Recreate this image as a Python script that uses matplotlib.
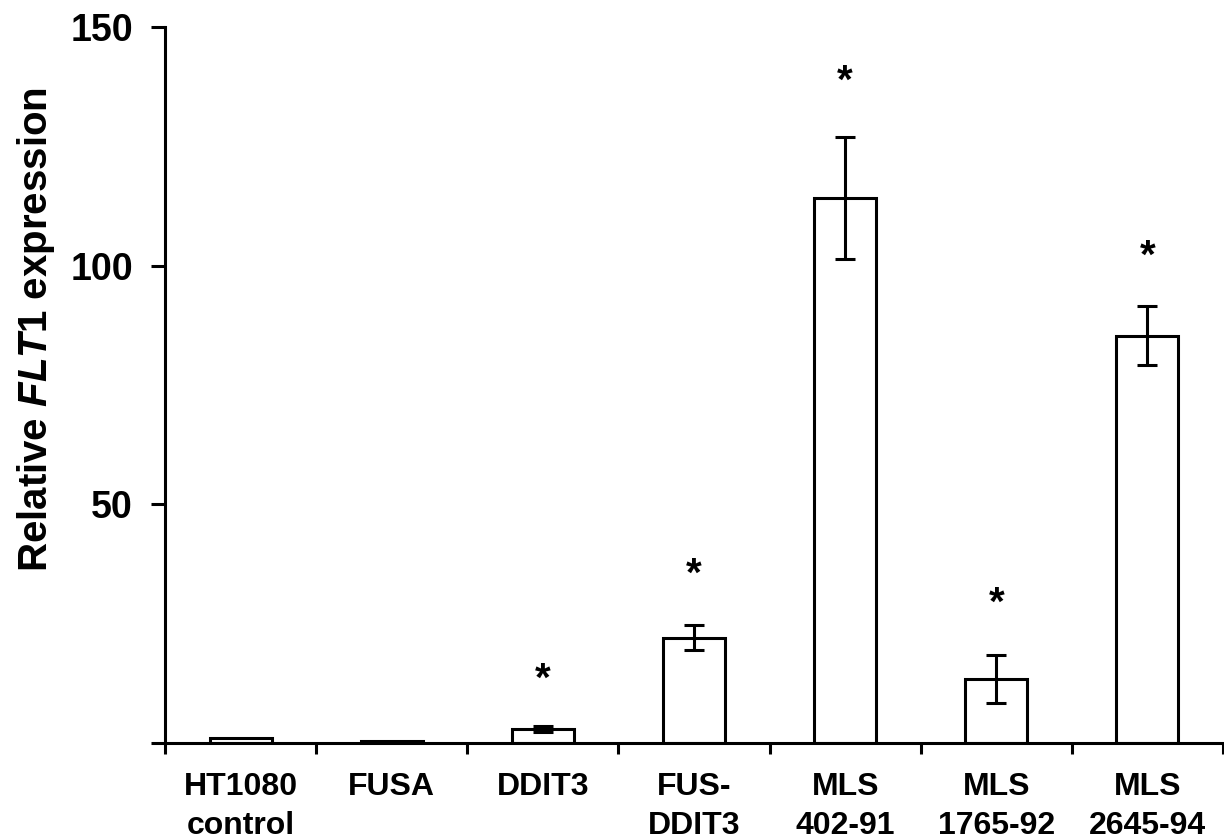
import matplotlib
matplotlib.use("Agg")
import matplotlib.pyplot as plt
from matplotlib.ticker import FixedLocator, NullFormatter

plt.rcParams['font.family'] = ['Liberation Sans', 'DejaVu Sans']
plt.rcParams['font.weight'] = 'bold'
plt.rcParams['mathtext.fontset'] = 'custom'
plt.rcParams['mathtext.it'] = 'Liberation Sans:italic:bold'
plt.rcParams['mathtext.rm'] = 'Liberation Sans:bold'

labels = ['HT1080\ncontrol', 'FUSA', 'DDIT3', 'FUS-\nDDIT3',
          'MLS\n402-91', 'MLS\n1765-92', 'MLS\n2645-94']
values = [1.0, 0.4, 2.9, 22.1, 114.2, 13.4, 85.3]
errors = [0.0, 0.0, 0.6, 2.6, 12.8, 5.0, 6.2]
# position of the significance stars (None = no star)
stars = [None, None, 14.7, 36.7, 140.0, 30.6, 103.3]

fig = plt.figure(figsize=(12.24, 8.4), dpi=100)
ax = fig.add_axes([165 / 1224, 97 / 840, 1058 / 1224, 716 / 840])

x = list(range(len(labels)))
ax.bar(x, values, width=0.41, color='white', edgecolor='black', linewidth=2.2, zorder=2)
for xi, v, e in zip(x, values, errors):
    if e > 0:
        ax.errorbar(xi, v, yerr=e, fmt='none', ecolor='black', elinewidth=2.2,
                    capsize=7.5, capthick=2.2, zorder=3)
for xi, s in zip(x, stars):
    if s is not None:
        ax.annotate('*', (xi, s), xytext=(0, -5), textcoords='offset points',
                    ha='center', va='center', fontsize=29, fontweight='bold')

ax.set_xlim(-0.5, 6.5)
ax.set_ylim(0, 150)
ax.set_yticks([0, 50, 100, 150])
ax.set_yticklabels(['', '50', '100', '150'])
ax.tick_params(axis='y', direction='out', length=10, width=2.2, pad=13, labelsize=27)

ax.set_xticks(x)
ax.set_xticklabels(labels, fontsize=23, fontweight='bold', linespacing=1.4)
ax.tick_params(axis='x', which='major', length=0, pad=21)
ax.xaxis.set_minor_locator(FixedLocator([i - 0.5 for i in range(len(labels) + 1)]))
ax.xaxis.set_minor_formatter(NullFormatter())
ax.tick_params(axis='x', which='minor', direction='out', length=8, width=2.2)

for side in ['top', 'right']:
    ax.spines[side].set_visible(False)
for side in ['left', 'bottom']:
    ax.spines[side].set_linewidth(2.2)

fig.text(36 / 1224, 1 - 330 / 840, r'Relative $\mathit{FLT1}$ expression',
         rotation=90, ha='center', va='center', fontsize=29, fontweight='bold')

fig.savefig('out.png', dpi=100)
